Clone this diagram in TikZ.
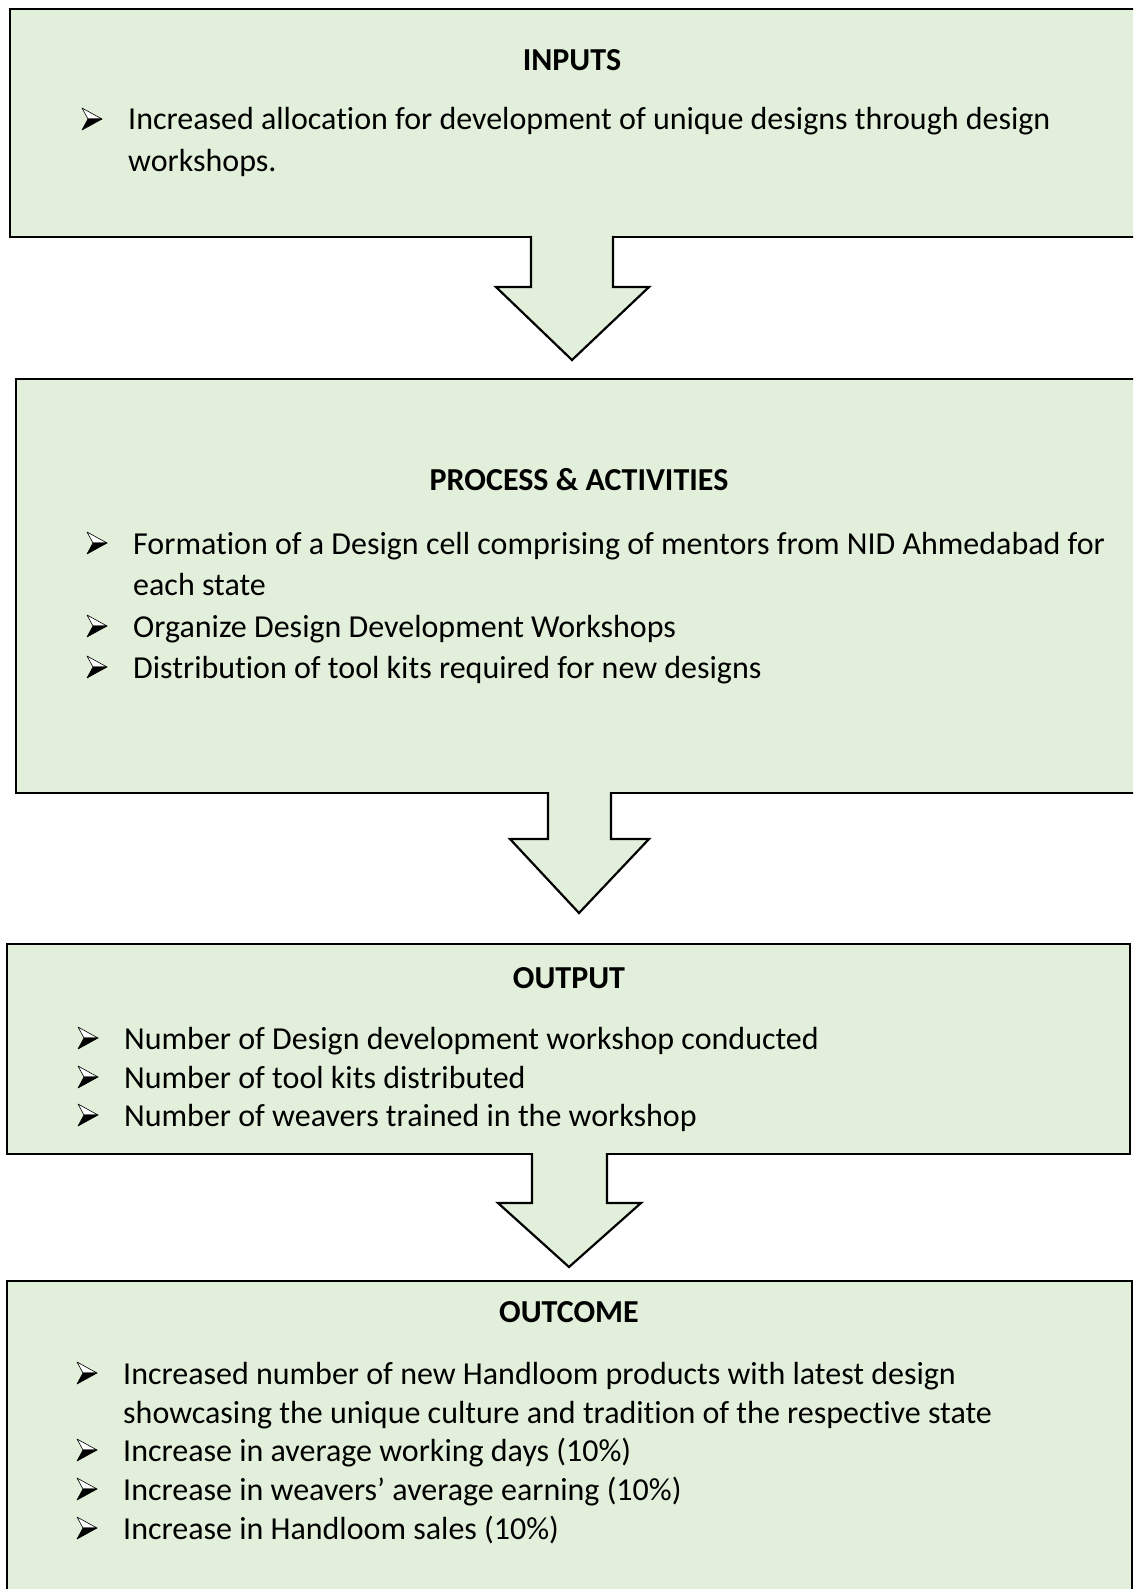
\documentclass[tikz,border=0pt]{standalone}
\usepackage{fontspec}
\setmainfont[RawFeature={-liga;-clig;-calt;-dlig;-rlig}]{Carlito}
\definecolor{boxgreen}{HTML}{E2EFDA}
% keeps "t" and "i" as separate glyphs
\newcommand\ti{t\kern0pt i}
\begin{document}
\begin{tikzpicture}[x=1pt,y=-1pt,
  box/.style={draw=black,line width=2.2pt,fill=boxgreen,anchor=north west,inner sep=0pt,outer sep=0pt},
  arrowfill/.style={fill=boxgreen},
  arrowline/.style={draw=black,line width=2.2pt,line join=miter},
  title/.style={anchor=base,inner sep=0pt,font=\fontsize{32}{38}\selectfont\bfseries},
  txt/.style={anchor=base west,inner sep=0pt,font=\fontsize{32}{38}\selectfont},
  bul/.pic={
    \filldraw[fill=white,draw=black,line width=0.6pt,line join=round] (0,-22) -- (20,-11) -- (6,-11) -- cycle;
    \filldraw[fill=black,draw=black,line width=0.6pt,line join=round] (6,-11) -- (20,-11) -- (0,0) -- cycle;
  }]
\useasboundingbox (0,0) rectangle (1133,1589);
\clip (0,0) rectangle (1133,1589);
\fill[white] (0,0) rectangle (1133,1589);

% the four stage boxes
\node[box,minimum width=1140pt,minimum height=228pt] (inputs) at (10,9) {};
\node[box,minimum width=1135pt,minimum height=414pt] (process) at (16,379) {};
\node[box,minimum width=1123pt,minimum height=210pt] (output) at (7,944) {};
\node[box,minimum width=1125pt,minimum height=330pt] (outcome) at (7,1281) {};

% block arrows between the stages
\fill[arrowfill] (531,234) -- (531,287) -- (496,287) -- (572,360) -- (649,287) -- (613,287) -- (613,234) -- cycle;
\draw[arrowline] (531,236) -- (531,287) -- (496,287) -- (572,360) -- (649,287) -- (613,287) -- (613,236);

\fill[arrowfill] (548,790) -- (548,839) -- (510,839) -- (579,913) -- (649,839) -- (611,839) -- (611,790) -- cycle;
\draw[arrowline] (548,792) -- (548,839) -- (510,839) -- (579,913) -- (649,839) -- (611,839) -- (611,792);

\fill[arrowfill] (532,1151) -- (532,1203) -- (498,1203) -- (569,1267) -- (641,1203) -- (607,1203) -- (607,1151) -- cycle;
\draw[arrowline] (532,1153) -- (532,1203) -- (498,1203) -- (569,1267) -- (641,1203) -- (607,1203) -- (607,1153);

% INPUTS
\node[title] (t1) at (572,71) {INPUTS};
\pic at (82,130) {bul};
\node[txt] (i1) at (128,130) {Increased alloca\ti on for development of unique designs through design};
\node[txt] (i2) at (128,172) {workshops.};

% PROCESS & ACTIVITIES
\node[title] (t2) at (579,490) {PROCESS \& ACTIVITIES};
\pic at (87,554) {bul};
\node[txt] (p1) at (133,554) {Forma\ti on of a Design cell comprising of mentors from NID Ahmedabad for};
\node[txt] (p2) at (133,595) {each state};
\pic at (87,637) {bul};
\node[txt] (p3) at (133,637) {Organize Design Development Workshops};
\pic at (87,678) {bul};
\node[txt] (p4) at (133,678) {Distribu\ti on of tool kits required for new designs};

% OUTPUT
\node[title] (t3) at (569,988) {OUTPUT};
\pic at (78,1049) {bul};
\node[txt] (o1) at (124,1049) {Number of Design development workshop conducted};
\pic at (78,1088) {bul};
\node[txt] (o2) at (124,1088) {Number of tool kits distributed};
\pic at (78,1126) {bul};
\node[txt] (o3) at (124,1126) {Number of weavers trained in the workshop};

% OUTCOME
\node[title] (t4) at (569,1322) {OUTCOME};
\pic at (77,1384) {bul};
\node[txt] (c1) at (123,1384) {Increased number of new Handloom products with latest design};
\node[txt] (c2) at (123,1423) {showcasing the unique culture and tradi\ti on of the respec\ti ve state};
\pic at (77,1461) {bul};
\node[txt] (c3) at (123,1461) {Increase in average working days (10\%)};
\pic at (77,1500) {bul};
\node[txt] (c4) at (123,1500) {Increase in weavers’ average earning (10\%)};
\pic at (77,1539) {bul};
\node[txt] (c5) at (123,1539) {Increase in Handloom sales (10\%)};
\end{tikzpicture}
\end{document}
